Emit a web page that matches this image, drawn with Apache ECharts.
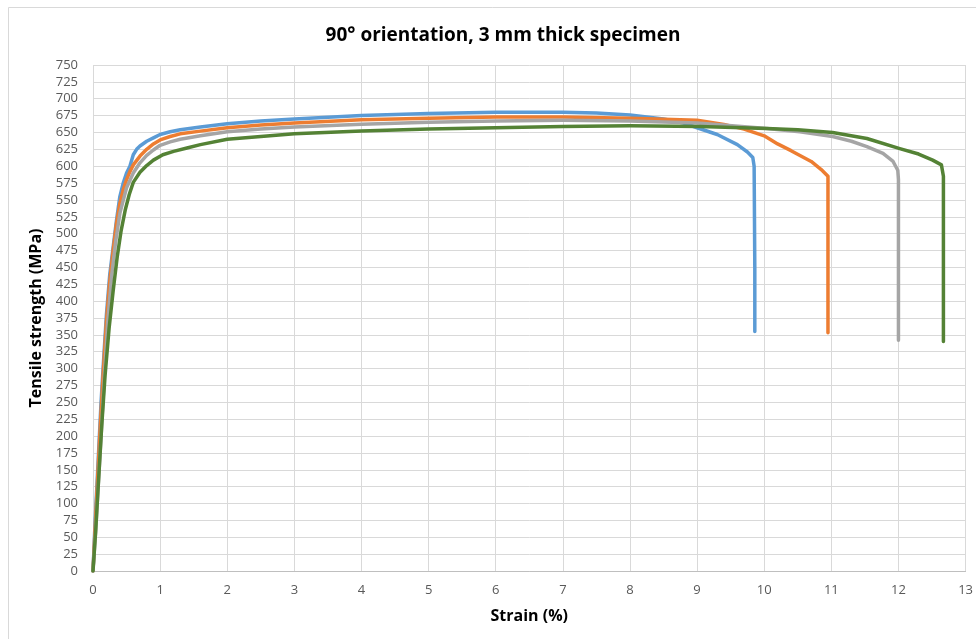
<!DOCTYPE html>
<html>
<head>
<meta charset="utf-8">
<title>90° orientation, 3 mm thick specimen</title>
<script src="https://cdn.jsdelivr.net/npm/echarts@6/dist/echarts.min.js"></script>
<style>
  html, body { margin: 0; padding: 0; background: #ffffff; }
  #chart { width: 976px; height: 639px; }
</style>
</head>
<body>
<div id="chart"></div>
<script>
// Stress–strain curves for four specimens (strain in %, stress in MPa)
const specimen1Strain = [0, 0.03, 0.06, 0.09, 0.12, 0.15, 0.2, 0.25, 0.3, 0.35, 0.4, 0.45, 0.5, 0.55, 0.6, 0.65, 0.7, 0.8, 0.9, 1.0, 1.15, 1.3, 1.6, 2, 2.5, 3, 4, 5, 6, 7, 7.5, 8, 8.5, 8.8, 9.0, 9.3, 9.6, 9.75, 9.83, 9.85, 9.86, 9.86];
const specimen1Stress = [0, 70, 130, 190, 250, 300, 380, 440, 480, 520, 555, 575, 590, 600, 617, 625, 630, 637, 642, 647, 651, 654, 658, 663, 667, 670, 675, 678, 680, 680, 679, 676, 670, 664, 657, 647, 632, 621, 613, 600, 450, 355];

const specimen2Strain = [0, 0.03, 0.06, 0.1, 0.15, 0.2, 0.25, 0.3, 0.35, 0.4, 0.45, 0.5, 0.55, 0.6, 0.7, 0.8, 0.9, 1.0, 1.15, 1.3, 1.6, 2, 2.5, 3, 4, 5, 6, 7, 8, 9, 9.4, 9.7, 10.0, 10.2, 10.4, 10.7, 10.85, 10.95, 10.95];
const specimen2Stress = [0, 60, 120, 200, 290, 370, 430, 475, 515, 545, 565, 580, 592, 602, 615, 625, 633, 639, 644, 648, 652, 657, 661, 664, 669, 671, 673, 673, 671, 668, 662, 655, 645, 633, 623, 607, 595, 585, 353];

const specimen3Strain = [0, 0.04, 0.08, 0.12, 0.17, 0.22, 0.28, 0.34, 0.4, 0.5, 0.6, 0.7, 0.8, 0.9, 1.0, 1.15, 1.3, 1.6, 2, 2.5, 3, 4, 5, 6, 7, 8, 9, 10.04, 10.53, 11.02, 11.3, 11.53, 11.77, 11.92, 11.99, 12.0, 12.0];
const specimen3Stress = [0, 60, 130, 200, 290, 370, 440, 490, 530, 568, 590, 605, 616, 624, 631, 636, 640, 645, 651, 655, 658, 662, 665, 667, 668, 667, 664, 656, 651, 644, 637, 629, 619, 607, 594, 580, 342];

const specimen4Strain = [0, 0.04, 0.08, 0.13, 0.18, 0.24, 0.3, 0.36, 0.42, 0.48, 0.54, 0.6, 0.7, 0.8, 0.9, 1.04, 1.2, 1.4, 1.6, 2, 2.5, 3, 4, 5, 6, 7, 8, 9.04, 10.04, 10.5, 11.02, 11.53, 12.02, 12.3, 12.51, 12.64, 12.67, 12.67];
const specimen4Stress = [0, 60, 130, 215, 290, 360, 415, 465, 505, 535, 558, 576, 591, 601, 609, 617, 622, 627, 632, 640, 644, 648, 652, 655, 657, 659, 660, 659, 656, 654, 650, 641, 626, 618, 609, 602, 585, 340];

const seriesNames = ['Specimen 1', 'Specimen 2', 'Specimen 3', 'Specimen 4'];
const seriesColors = ['#5b9bd5', '#ed7d31', '#a5a5a5', '#548235'];

const pairs = (xs, ys) => xs.map((x, i) => [x, ys[i]]);
const curves = [
  pairs(specimen1Strain, specimen1Stress),
  pairs(specimen2Strain, specimen2Stress),
  pairs(specimen3Strain, specimen3Stress),
  pairs(specimen4Strain, specimen4Stress)
];

const font = '"Open Sans", "Liberation Sans", sans-serif';
const chart = echarts.init(document.getElementById('chart'), null, { renderer: 'canvas' });

chart.setOption({
  backgroundColor: '#ffffff',
  animation: false,
  textStyle: { fontFamily: font },
  graphic: [{
    type: 'rect',
    shape: { x: 8.5, y: 7.5, width: 990, height: 660 },
    style: { fill: 'none', stroke: '#d9d9d9', lineWidth: 1 },
    silent: true
  }],
  title: {
    text: '90° orientation, 3 mm thick specimen',
    left: 498,
    top: 21,
    textAlign: 'center',
    textStyle: { fontFamily: font, fontSize: 19, fontWeight: 'bold', color: '#000000' }
  },
  grid: { left: 93, right: 10, top: 65, bottom: 68, containLabel: false },
  xAxis: {
    type: 'value',
    min: 0, max: 13, interval: 1,
    name: 'Strain (%)',
    nameLocation: 'middle',
    nameGap: 37,
    nameTextStyle: { fontFamily: font, fontSize: 16, fontWeight: 'bold', color: '#000000' },
    axisLine: { show: true, lineStyle: { color: '#bfbfbf', width: 1 } },
    axisTick: { show: false },
    axisLabel: { color: '#595959', fontSize: 13, margin: 13, fontFamily: font },
    splitLine: { show: true, lineStyle: { color: '#d9d9d9', width: 1 } }
  },
  yAxis: {
    type: 'value',
    min: 0, max: 750, interval: 25,
    name: 'Tensile strength (MPa)',
    nameLocation: 'middle',
    nameGap: 43,
    nameRotate: 90,
    nameTextStyle: { fontFamily: font, fontSize: 16, fontWeight: 'bold', color: '#000000' },
    axisLine: { show: false },
    axisTick: { show: false },
    axisLabel: { color: '#595959', fontSize: 13, margin: 15, fontFamily: font },
    splitLine: { show: true, lineStyle: { color: '#d9d9d9', width: 1 } }
  },
  series: curves.map((data, i) => ({
    name: seriesNames[i],
    type: 'line',
    data: data,
    showSymbol: false,
    smooth: false,
    lineStyle: { color: seriesColors[i], width: 3.5, join: 'round', cap: 'round' },
    itemStyle: { color: seriesColors[i] },
    z: 2 + i
  }))
});
</script>
</body>
</html>
